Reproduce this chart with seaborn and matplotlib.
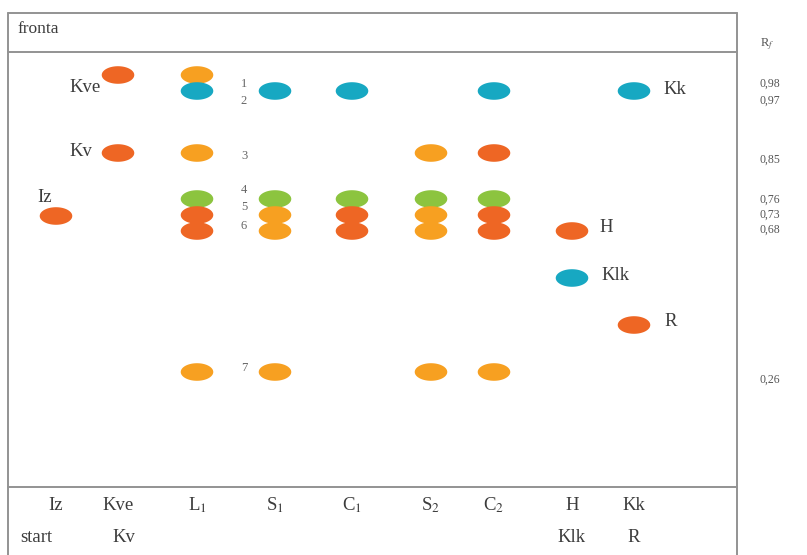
import numpy as np
import pandas as pd
import matplotlib
matplotlib.use("Agg")
import matplotlib.pyplot as plt
from matplotlib.path import Path
import seaborn as sns

# ---- data ----
lanes = ["Iz", "Kve", "L1", "S1", "C1", "S2", "C2", "H", "Kk"]
lane_labels = ["Iz", "Kve", r"L$_1$", r"S$_1$", r"C$_1$", r"S$_2$", r"C$_2$", "H", "Kk"]
lane_labels2 = {"Iz": "start", "Kve": "Kv", "H": "Klk", "Kk": "R"}
lane_pos = [48, 110, 189, 267, 344, 423, 486, 564, 626]   # lane centres on plate (px from left edge)

# spots: lane, migration distance from start (plate px), colour class
spot_lane = ["Iz",
             "Kve", "Kve",
             "L1", "L1", "L1", "L1", "L1", "L1", "L1",
             "S1", "S1", "S1", "S1", "S1",
             "C1", "C1", "C1", "C1",
             "S2", "S2", "S2", "S2", "S2",
             "C2", "C2", "C2", "C2", "C2", "C2",
             "H", "H",
             "Kk", "Kk"]
spot_dist = [271,
             412, 334,
             412, 396, 334, 288, 272, 256, 115,
             396, 288, 272, 256, 115,
             396, 288, 272, 256,
             334, 288, 272, 256, 115,
             396, 334, 288, 272, 256, 115,
             256, 209,
             396, 162]
spot_kind = ["red",
             "red", "red",
             "amber", "cyan", "amber", "green", "red", "red", "amber",
             "cyan", "green", "amber", "amber", "amber",
             "cyan", "green", "red", "red",
             "amber", "green", "amber", "amber", "amber",
             "cyan", "red", "green", "red", "red", "amber",
             "red", "cyan",
             "cyan", "red"]

spot_names = ["1", "2", "3", "4", "5", "6", "7"]
rf_values = ["0,98", "0,97", "0,85", "0,76", "0,73", "0,68", "0,26"]

palette = {"red": "#EE6624", "amber": "#F7A021", "cyan": "#17A8C2", "green": "#8CC43F"}

# ---- build ----
lane_x = dict(zip(lanes, lane_pos))
x0 = 8  # plate left edge in figure px
df = pd.DataFrame({"lane": spot_lane, "dist": spot_dist, "kind": spot_kind})
df["x"] = df["lane"].map(lane_x) + x0

sns.set_theme(style="white")
plt.rcParams["font.family"] = ["Liberation Serif", "DejaVu Serif"]
plt.rcParams["mathtext.fontset"] = "stix"

fig = plt.figure(figsize=(8.07, 5.55), dpi=100)
ax = fig.add_axes([0, 0, 1, 1])
ax.set_xlim(0, 807)
ax.set_ylim(487 - 555, 487)   # y = distance above start line
ax.axis("off")

t = np.linspace(0, 2 * np.pi, 60)
ell = Path(np.column_stack([np.cos(t), 0.54 * np.sin(t)]), closed=True)

sns.scatterplot(data=df, x="x", y="dist", hue="kind", palette=palette,
                marker=ell, s=550, linewidth=0, legend=False, ax=ax, zorder=3)

# plate frame
lc = "#939393"
top, front, right = 487 - 13, 487 - 52, 737
ax.plot([x0, x0], [-80, top], color=lc, lw=1.4)
ax.plot([right, right], [-80, top], color=lc, lw=1.4)
ax.plot([x0, right], [top, top], color=lc, lw=1.4)
ax.plot([x0, right], [front, front], color=lc, lw=1.4)
ax.plot([x0, right], [0, 0], color=lc, lw=1.4)

tc = "#3c3c3c"
ax.text(x0 + 10, 487 - 29, "fronta", fontsize=12.5, color=tc, va="center", ha="left")

# lane labels under start line
for ln, lab in zip(lanes, lane_labels):
    ax.text(lane_x[ln] + x0, 487 - 505, lab, fontsize=13.5, color=tc, ha="center", va="center")
for ln, lab in lane_labels2.items():
    xx = lane_x[ln] + x0
    if ln == "Iz":
        xx = 36
    elif ln == "Kve":
        xx = 124
    ax.text(xx, 487 - 537, lab, fontsize=13.5, color=tc, ha="center", va="center")

# standard annotations beside spots
ann = [("Kve", 85, 88), ("Kv", 81, 151), ("Iz", 45, 198),
       ("Kk", 675, 89), ("H", 606, 227), ("Klk", 616, 275), ("R", 671, 322)]
for s, xx, yy in ann:
    ax.text(xx, 487 - yy, s, fontsize=13.5, color=tc, ha="center", va="center")

# spot numbers
num_y = [84, 101, 156, 190, 207, 226, 368]
for s, yy in zip(spot_names, num_y):
    ax.text(244, 487 - yy, s, fontsize=9, color="#666666", ha="center", va="center")

# Rf column
ax.text(767, 487 - 44, r"R$_f$", fontsize=9, color="#555555", ha="center", va="center")
rf_y = [84, 101, 160, 200, 215, 230, 380]
for s, yy in zip(rf_values, rf_y):
    ax.text(770, 487 - yy, s, fontsize=8.5, color="#555555", ha="center", va="center")

fig.savefig("out.png", dpi=100)
